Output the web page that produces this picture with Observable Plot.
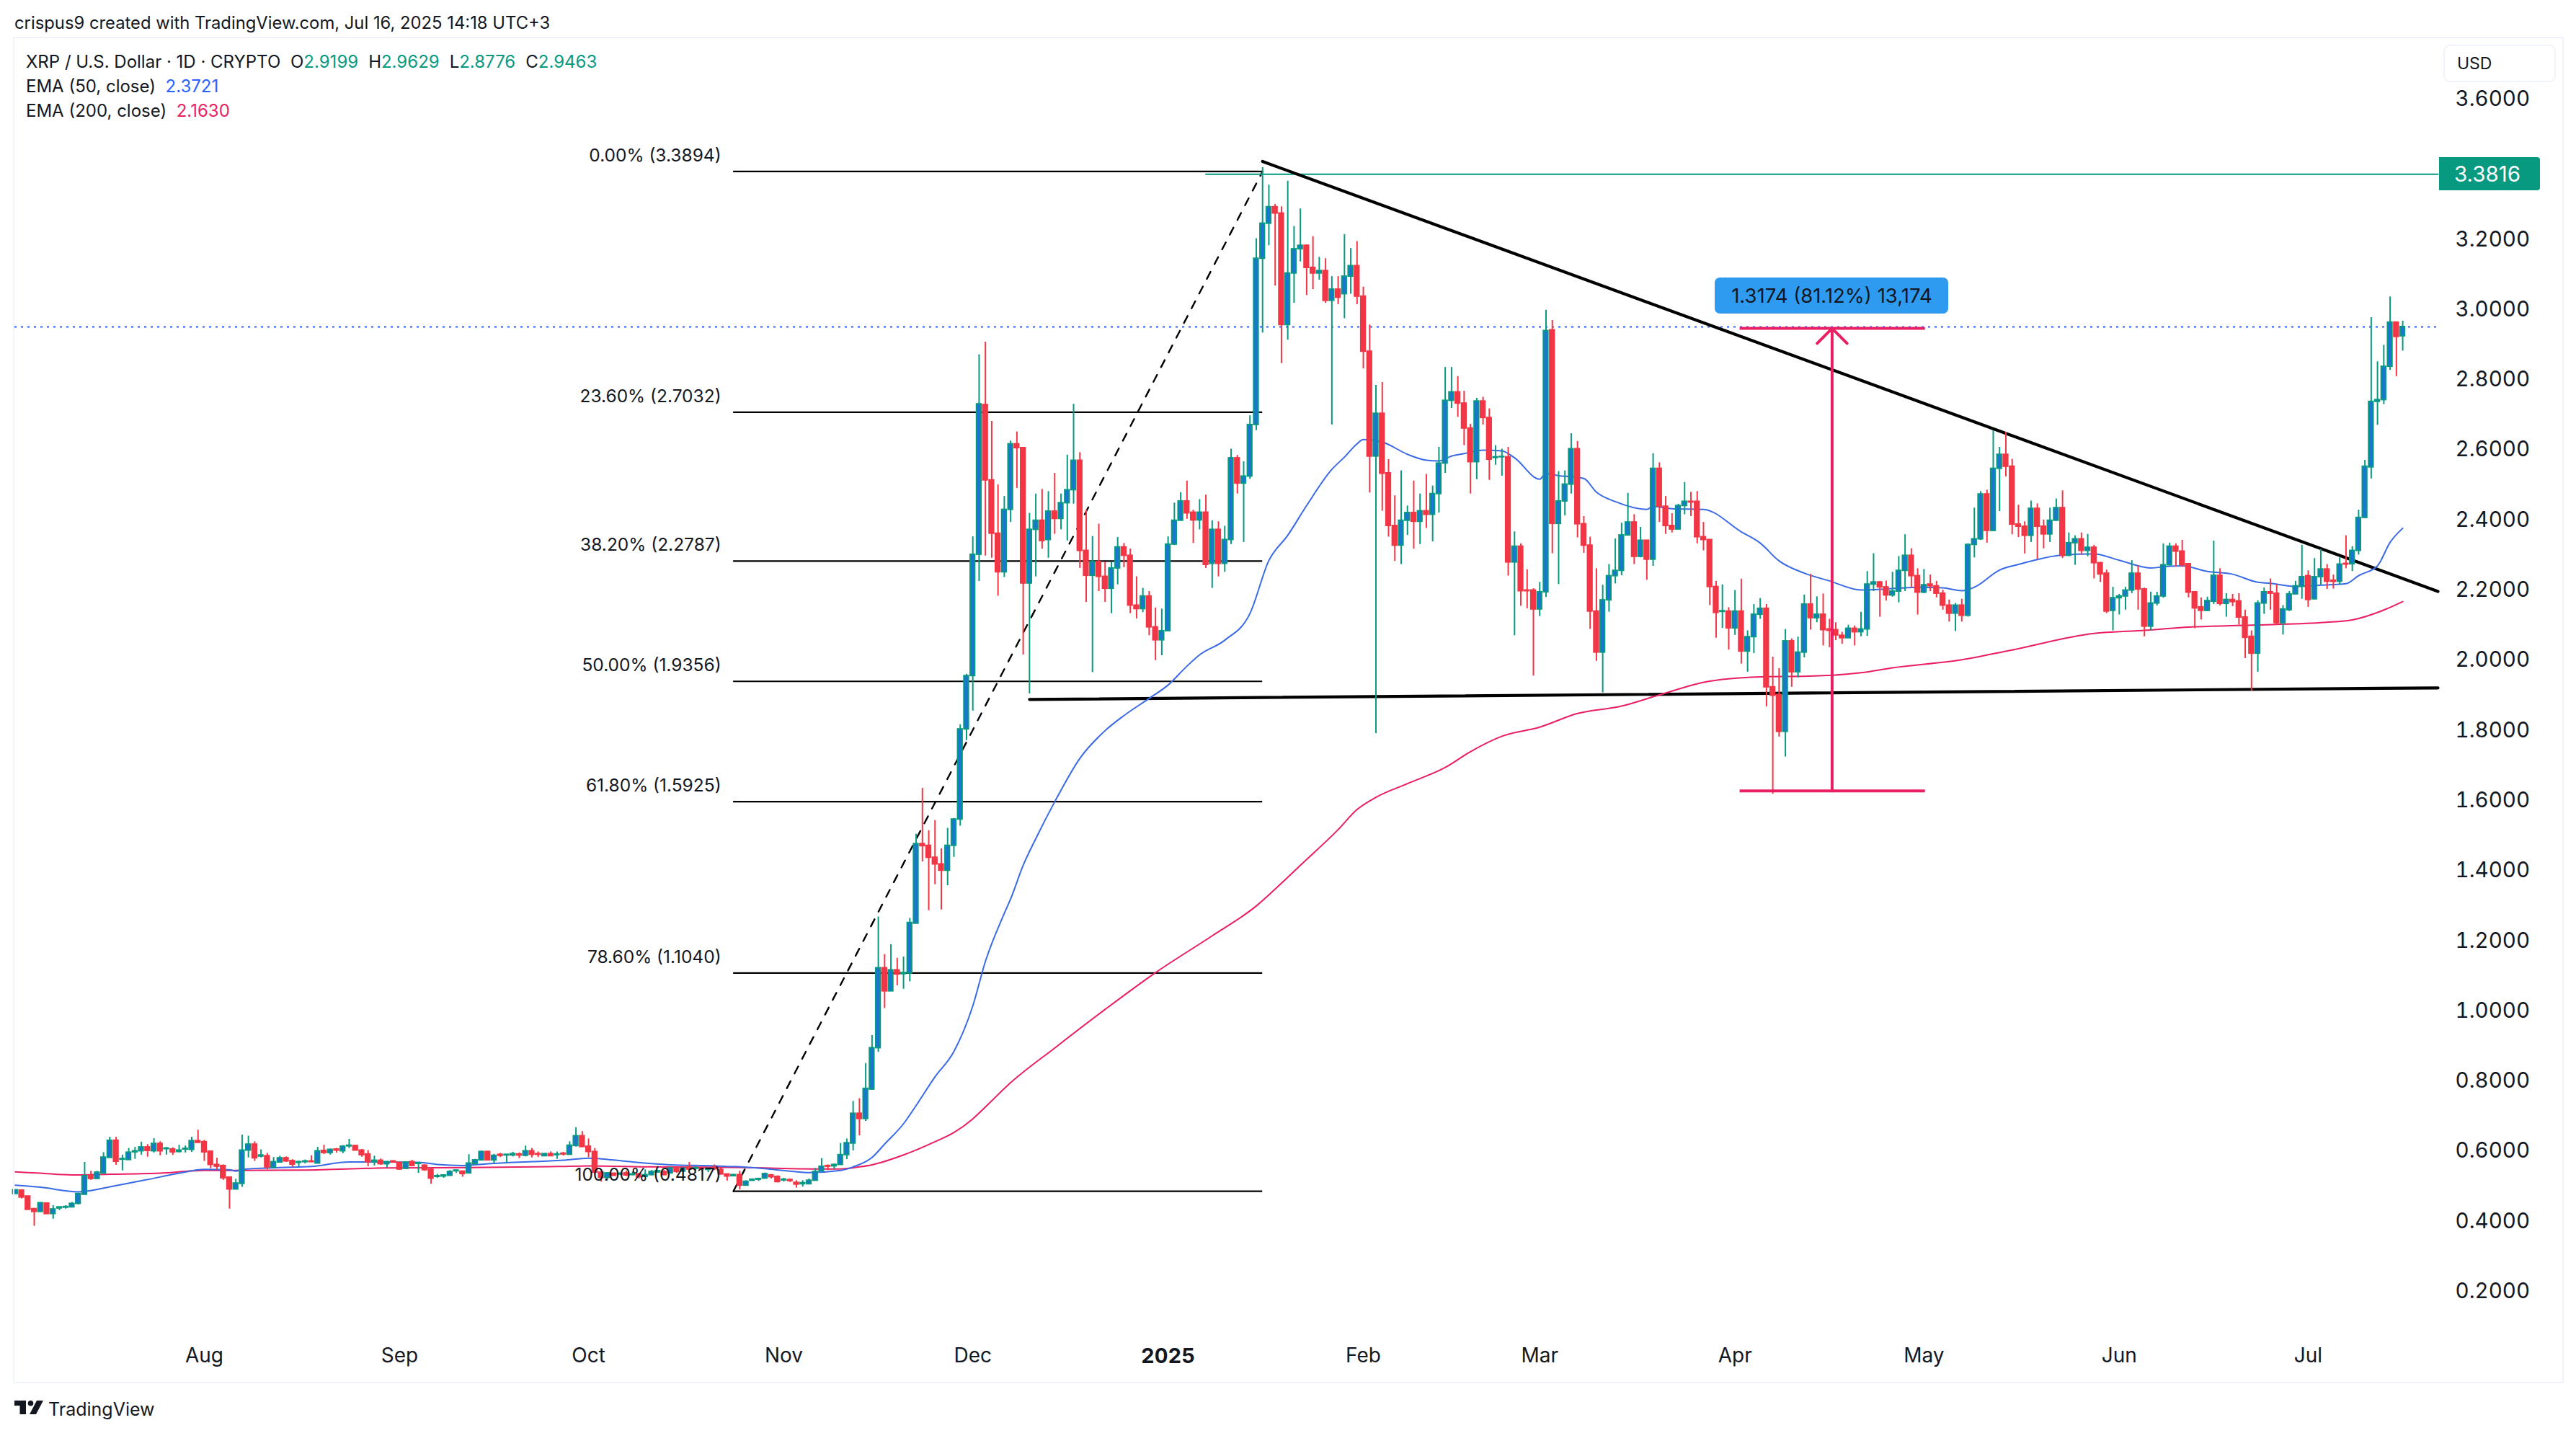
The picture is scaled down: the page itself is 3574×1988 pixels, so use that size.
<!DOCTYPE html>
<html><head><meta charset="utf-8">
<script src="https://cdn.jsdelivr.net/npm/d3@7"></script>
<script src="https://cdn.jsdelivr.net/npm/@observablehq/plot@0.6"></script>
<style>
html,body{margin:0;padding:0;background:#fff;font-family:Inter,"Liberation Sans",sans-serif;color:#131722}
#head{height:53px;position:relative}
#head span{position:absolute;left:20px;top:17px;font-size:23.8px;line-height:30px;white-space:nowrap}
#pane{position:relative;margin-left:20px;width:3535px;height:1864px;outline:2px solid #f0f3fa}
#pane svg{display:block}
#legend{position:absolute;left:16px;top:16px;font-size:24px;line-height:34px;white-space:nowrap}
#legend b{font-weight:400;margin-right:14px}
#legend b.first{margin-right:7px}
.up{color:#089981}.e50{color:#2962ff}.e200{color:#e91e63}
#usd{position:absolute;left:3370px;top:9px;width:156px;height:52px;box-sizing:border-box;border:2px solid #f0f3fa;border-radius:9px;font-size:23px;line-height:48px;padding-left:17px}
#tag{position:absolute;background:#089981;color:#fff;font-size:29.5px;width:140px;height:46px;line-height:46px;text-align:left;padding-left:21px;box-sizing:border-box;border-radius:0 4px 4px 0}
#box{position:absolute;background:#2f9bf0;color:#131722;font-size:27.5px;width:324px;height:50px;line-height:50px;text-align:center;border-radius:7px;white-space:nowrap}
#foot{position:relative;height:71px}
#foot svg{position:absolute;left:20px;top:26px}
#foot span{position:absolute;left:67px;top:20px;font-size:25px;line-height:36px}
</style></head><body>
<div id="head"><span>crispus9 created with TradingView.com, Jul 16, 2025 14:18 UTC+3</span></div>
<div id="pane"></div>
<div id="foot"><svg width="40" height="20" viewBox="0 0 40 20"><path fill="#131722" d="M0 0H16V19H7.5V7H0Z M40 0L30 19H21L31 0Z"/><circle cx="22.5" cy="3.8" r="3.8" fill="#131722"/></svg><span>TradingView</span></div>
<script>
// [open, high, low, close] per day
const jul24=[[.474,.486,.474,.485],[.484,.484,.460,.464],[.467,.467,.429,.429],[.431,.433,.382,.423],[.423,.448,.423,.448],[.447,.447,.417,.417],[.417,.441,.402,.430],[.433,.436,.427,.436],[.435,.441,.431,.437],[.436,.450,.435,.446],[.446,.476,.443,.474],[.472,.564,.472,.525],[.526,.539,.513,.517],[.517,.539,.517,.535],[.533,.592,.530,.578],[.577,.636,.577,.626],[.626,.636,.556,.566],[.572,.585,.540,.574],[.571,.604,.571,.592],[.593,.607,.573,.596],[.596,.622,.585,.607],[.607,.615,.579,.597],[.596,.632,.591,.617],[.617,.623,.583,.596],[.602,.607,.585,.604],[.601,.606,.584,.593],[.594,.613,.591,.598],[.601,.611,.591,.603],[.600,.636,.593,.625],[.625,.656,.620,.620]];
const aug24=[[.622,.627,.567,.593],[.595,.595,.546,.557],[.557,.576,.542,.552],[.554,.557,.513,.519],[.521,.521,.431,.487],[.487,.516,.487,.504],[.503,.642,.493,.598],[.598,.639,.577,.615],[.615,.623,.567,.576],[.581,.600,.577,.584],[.582,.590,.543,.550],[.549,.578,.548,.565],[.564,.582,.563,.576],[.576,.580,.564,.567],[.568,.572,.550,.558],[.563,.568,.552,.565],[.565,.571,.560,.567],[.567,.583,.565,.565],[.561,.607,.561,.596],[.597,.613,.587,.591],[.591,.602,.585,.600],[.601,.604,.591,.598],[.596,.612,.589,.609],[.610,.630,.604,.612],[.611,.613,.597,.598],[.598,.601,.579,.585],[.587,.598,.552,.565],[.565,.582,.554,.569],[.569,.574,.556,.559],[.559,.567,.548,.565],[.567,.569,.564,.564]];
const sep24=[[.563,.564,.542,.544],[.546,.565,.544,.564],[.565,.570,.553,.554],[.560,.564,.533,.562],[.555,.557,.539,.542],[.543,.548,.502,.518],[.523,.530,.519,.525],[.524,.528,.519,.527],[.526,.541,.526,.537],[.539,.542,.533,.541],[.538,.538,.522,.531],[.533,.586,.533,.561],[.560,.573,.556,.570],[.570,.596,.569,.594],[.594,.596,.570,.570],[.570,.587,.560,.583],[.586,.590,.578,.583],[.584,.586,.562,.586],[.584,.593,.580,.588],[.587,.591,.575,.584],[.583,.611,.580,.596],[.596,.604,.577,.586],[.588,.594,.578,.586],[.582,.589,.581,.588],[.588,.594,.581,.582],[.585,.594,.573,.587],[.589,.593,.582,.587],[.586,.623,.586,.612],[.611,.663,.608,.639],[.639,.652,.608,.608]];
const oct24=[[.609,.631,.578,.594],[.594,.604,.530,.535],[.535,.541,.508,.520],[.520,.535,.515,.533],[.532,.534,.526,.526],[.530,.534,.527,.532],[.533,.539,.524,.527],[.528,.537,.526,.530],[.530,.533,.517,.522],[.523,.543,.522,.528],[.528,.541,.526,.537],[.536,.542,.533,.539],[.537,.541,.526,.528],[.533,.550,.531,.547],[.548,.551,.533,.537],[.538,.549,.535,.546],[.550,.564,.542,.544],[.546,.552,.541,.548],[.547,.549,.538,.545],[.543,.546,.535,.546],[.549,.557,.541,.545],[.543,.548,.528,.530],[.530,.530,.511,.524],[.525,.530,.524,.528],[.528,.539,.486,.498],[.498,.512,.497,.509],[.512,.517,.510,.515],[.515,.519,.510,.517],[.518,.534,.518,.531],[.527,.530,.517,.522],[.523,.526,.506,.508]];
const nov24=[[.513,.519,.508,.515],[.514,.517,.507,.511],[.506,.512,.491,.501],[.502,.512,.494,.505],[.502,.517,.501,.512],[.512,.547,.512,.537],[.539,.575,.537,.552],[.554,.557,.541,.552],[.553,.560,.544,.557],[.557,.618,.556,.585],[.585,.631,.572,.619],[.618,.738,.597,.703],[.703,.746,.640,.688],[.688,.846,.681,.774],[.772,.926,.770,.890],[.890,1.264,.878,1.118],[1.118,1.157,1.003,1.052],[1.052,1.185,1.052,1.112],[1.112,1.146,1.068,1.100],[1.101,1.150,1.058,1.104],[1.103,1.260,1.079,1.247],[1.245,1.500,1.245,1.472],[1.472,1.631,1.421,1.466],[1.467,1.510,1.282,1.433],[1.433,1.539,1.356,1.414],[1.414,1.458,1.284,1.396],[1.396,1.517,1.353,1.467],[1.467,1.545,1.434,1.542],[1.542,1.812,1.523,1.799],[1.799,1.956,1.767,1.951]];
const dec24=[[1.951,2.348,1.851,2.297],[2.297,2.867,2.221,2.726],[2.724,2.903,2.293,2.509],[2.509,2.677,2.287,2.357],[2.357,2.496,2.179,2.247],[2.247,2.463,2.232,2.425],[2.425,2.621,2.389,2.612],[2.612,2.647,2.486,2.601],[2.601,2.601,2.011,2.215],[2.215,2.415,1.900,2.368],[2.368,2.470,2.234,2.394],[2.394,2.483,2.313,2.336],[2.339,2.477,2.287,2.420],[2.420,2.529,2.355,2.399],[2.399,2.470,2.368,2.444],[2.444,2.581,2.336,2.481],[2.481,2.726,2.441,2.565],[2.565,2.588,2.258,2.308],[2.308,2.424,2.161,2.237],[2.237,2.349,1.961,2.276],[2.276,2.384,2.192,2.234],[2.234,2.276,2.161,2.200],[2.200,2.276,2.129,2.258],[2.258,2.346,2.211,2.318],[2.318,2.329,2.260,2.294],[2.294,2.313,2.129,2.152],[2.152,2.234,2.114,2.142],[2.142,2.201,2.132,2.178],[2.178,2.192,2.066,2.090],[2.090,2.145,1.995,2.053],[2.053,2.142,2.009,2.079]];
const jan25=[[2.079,2.348,2.079,2.326],[2.326,2.444,2.323,2.394],[2.394,2.474,2.394,2.449],[2.449,2.507,2.398,2.415],[2.417,2.424,2.329,2.395],[2.395,2.454,2.368,2.417],[2.417,2.467,2.258,2.268],[2.271,2.394,2.201,2.368],[2.368,2.391,2.234,2.271],[2.271,2.378,2.247,2.339],[2.339,2.598,2.326,2.572],[2.572,2.580,2.470,2.500],[2.500,2.562,2.332,2.520],[2.520,2.693,2.512,2.667],[2.667,3.198,2.651,3.141],[3.141,3.401,2.929,3.241],[3.241,3.351,3.178,3.288],[3.288,3.296,3.063,3.270],[3.270,3.289,2.842,2.952],[2.952,3.362,2.909,3.099],[3.099,3.233,3.014,3.168],[3.168,3.283,3.132,3.178],[3.178,3.181,3.036,3.115],[3.115,3.204,3.053,3.099],[3.099,3.145,3.080,3.106],[3.106,3.141,3.014,3.021],[3.021,3.090,2.667,3.053],[3.053,3.090,3.010,3.030],[3.040,3.210,2.970,3.090],[3.090,3.170,3.040,3.120],[3.120,3.190,3.010,3.033]];
const feb25=[[3.033,3.060,2.827,2.876],[2.876,2.952,2.473,2.577],[2.577,2.780,1.787,2.699],[2.699,2.788,2.421,2.528],[2.529,2.568,2.347,2.379],[2.379,2.465,2.278,2.323],[2.323,2.536,2.269,2.394],[2.394,2.436,2.352,2.416],[2.416,2.507,2.313,2.391],[2.391,2.470,2.326,2.421],[2.421,2.526,2.372,2.411],[2.411,2.493,2.334,2.470],[2.470,2.603,2.416,2.557],[2.557,2.831,2.529,2.736],[2.736,2.831,2.714,2.760],[2.760,2.805,2.689,2.728],[2.728,2.763,2.608,2.657],[2.657,2.669,2.470,2.561],[2.561,2.743,2.511,2.734],[2.734,2.746,2.667,2.687],[2.687,2.713,2.509,2.568],[2.573,2.608,2.552,2.575],[2.575,2.598,2.521,2.576],[2.575,2.603,2.236,2.275],[2.275,2.362,2.066,2.320],[2.320,2.328,2.150,2.193],[2.195,2.254,2.143,2.193],[2.195,2.200,1.951,2.141]];
const mar25=[[2.141,2.218,2.121,2.190],[2.190,2.994,2.175,2.935],[2.937,2.965,2.300,2.385],[2.385,2.534,2.212,2.449],[2.449,2.536,2.408,2.497],[2.497,2.642,2.470,2.598],[2.598,2.620,2.345,2.384],[2.384,2.406,2.301,2.323],[2.323,2.347,2.084,2.135],[2.135,2.257,1.993,2.018],[2.018,2.210,1.903,2.167],[2.167,2.269,2.133,2.236],[2.236,2.342,2.214,2.251],[2.251,2.387,2.237,2.352],[2.352,2.472,2.352,2.389],[2.389,2.411,2.269,2.291],[2.291,2.375,2.288,2.337],[2.337,2.337,2.224,2.283],[2.283,2.585,2.264,2.542],[2.542,2.559,2.389,2.434],[2.434,2.463,2.355,2.379],[2.379,2.414,2.359,2.369],[2.369,2.441,2.367,2.436],[2.436,2.503,2.411,2.448],[2.448,2.475,2.406,2.446],[2.448,2.477,2.328,2.347],[2.347,2.389,2.308,2.339],[2.339,2.339,2.152,2.205],[2.205,2.221,2.059,2.131],[2.134,2.211,2.087,2.136],[2.135,2.146,2.025,2.087]];
const apr25=[[2.087,2.195,2.067,2.135],[2.135,2.227,1.985,2.021],[2.021,2.080,1.962,2.062],[2.062,2.155,2.015,2.126],[2.126,2.172,2.113,2.143],[2.143,2.155,1.863,1.919],[1.919,2.005,1.614,1.895],[1.897,1.972,1.777,1.792],[1.792,2.084,1.720,2.050],[2.050,2.057,1.919,1.962],[1.962,2.062,1.946,2.018],[2.018,2.182,2.003,2.155],[2.155,2.241,2.082,2.116],[2.116,2.177,2.103,2.126],[2.126,2.185,2.037,2.082],[2.084,2.113,2.032,2.080],[2.082,2.103,2.052,2.067],[2.066,2.076,2.042,2.059],[2.059,2.096,2.058,2.086],[2.086,2.094,2.037,2.076],[2.076,2.133,2.063,2.084],[2.084,2.249,2.064,2.212],[2.212,2.300,2.192,2.218],[2.218,2.221,2.119,2.204],[2.204,2.222,2.165,2.181],[2.181,2.247,2.176,2.192],[2.192,2.292,2.160,2.251],[2.251,2.354,2.192,2.294],[2.294,2.314,2.202,2.236],[2.236,2.257,2.125,2.189]];
const may25=[[2.189,2.255,2.186,2.210],[2.212,2.239,2.192,2.207],[2.207,2.221,2.174,2.186],[2.186,2.196,2.139,2.152],[2.152,2.168,2.105,2.129],[2.129,2.158,2.078,2.152],[2.152,2.170,2.105,2.123],[2.123,2.328,2.119,2.325],[2.325,2.430,2.288,2.341],[2.341,2.477,2.338,2.469],[2.469,2.481,2.330,2.365],[2.365,2.650,2.363,2.542],[2.542,2.603,2.420,2.582],[2.582,2.646,2.519,2.548],[2.548,2.569,2.354,2.383],[2.383,2.438,2.346,2.377],[2.377,2.391,2.299,2.351],[2.351,2.450,2.332,2.428],[2.428,2.442,2.283,2.377],[2.377,2.396,2.314,2.355],[2.355,2.430,2.332,2.394],[2.394,2.456,2.393,2.430],[2.430,2.479,2.286,2.294],[2.294,2.359,2.292,2.330],[2.330,2.351,2.267,2.341],[2.341,2.359,2.296,2.308],[2.308,2.355,2.291,2.317],[2.317,2.324,2.228,2.273],[2.273,2.275,2.218,2.241],[2.243,2.253,2.129,2.135],[2.137,2.204,2.080,2.173]];
const jun25=[[2.173,2.184,2.125,2.178],[2.178,2.204,2.139,2.195],[2.195,2.280,2.186,2.243],[2.243,2.265,2.139,2.198],[2.198,2.202,2.063,2.092],[2.092,2.190,2.080,2.158],[2.158,2.190,2.151,2.178],[2.178,2.328,2.173,2.267],[2.267,2.330,2.265,2.320],[2.320,2.328,2.262,2.306],[2.306,2.338,2.261,2.267],[2.270,2.272,2.174,2.189],[2.190,2.190,2.086,2.144],[2.147,2.174,2.111,2.137],[2.137,2.176,2.135,2.165],[2.163,2.336,2.155,2.237],[2.237,2.257,2.151,2.157],[2.157,2.186,2.119,2.168],[2.168,2.184,2.149,2.162],[2.164,2.186,2.096,2.118],[2.118,2.139,2.001,2.060],[2.063,2.080,1.908,2.015],[2.015,2.166,1.962,2.158],[2.158,2.202,2.127,2.190],[2.190,2.228,2.139,2.186],[2.186,2.212,2.096,2.102],[2.102,2.152,2.068,2.141],[2.139,2.192,2.135,2.184],[2.184,2.221,2.184,2.207],[2.206,2.324,2.170,2.233]];
const jul25=[[2.236,2.251,2.147,2.168],[2.170,2.286,2.168,2.233],[2.233,2.312,2.210,2.255],[2.255,2.269,2.198,2.220],[2.223,2.239,2.199,2.220],[2.220,2.288,2.210,2.269],[2.271,2.351,2.257,2.269],[2.270,2.320,2.249,2.308],[2.308,2.424,2.296,2.402],[2.402,2.566,2.401,2.548],[2.546,2.973,2.513,2.733],[2.733,2.847,2.666,2.738],[2.738,2.894,2.725,2.833],[2.833,3.032,2.823,2.959],[2.959,2.959,2.805,2.918],[2.9199,2.9629,2.8776,2.9463]];
const months=[[2024,6,2,jul24],[2024,7,1,aug24],[2024,8,1,sep24],[2024,9,1,oct24],[2024,10,1,nov24],[2024,11,1,dec24],[2025,0,1,jan25],[2025,1,1,feb25],[2025,2,1,mar25],[2025,3,1,apr25],[2025,4,1,may25],[2025,5,1,jun25],[2025,6,1,jul25]];

const ema50=[["2024-07-02",.499],["2024-07-06",.493],["2024-07-12",.480],["2024-07-13",.481],["2024-07-17",.494],["2024-07-23",.515],["2024-07-28",.533],["2024-08-01",.544],["2024-08-05",.543],["2024-08-06",.539],["2024-08-07",.544],["2024-08-13",.549],["2024-08-18",.552],["2024-08-24",.565],["2024-08-28",.565],["2024-09-04",.564],["2024-09-07",.558],["2024-09-11",.555],["2024-09-15",.560],["2024-09-22",.566],["2024-09-27",.570],["2024-10-01",.576],["2024-10-03",.574],["2024-10-08",.565],["2024-10-14",.557],["2024-10-21",.554],["2024-10-27",.549],["2024-10-29",.546],["2024-11-02",.539],["2024-11-05",.535],["2024-11-10",.541],["2024-11-12",.551],["2024-11-15",.578],["2024-11-17",.616],["2024-11-20",.674],["2024-11-22",.726],["2024-11-25",.808],["2024-11-28",.880],["2024-12-01",1.010],["2024-12-03",1.137],["2024-12-06",1.274],["2024-12-07",1.315],["2024-12-09",1.411],["2024-12-11",1.487],["2024-12-14",1.592],["2024-12-18",1.716],["2024-12-22",1.795],["2024-12-25",1.838],["2024-12-29",1.887],["2025-01-01",1.925],["2025-01-04",1.979],["2025-01-06",2.011],["2025-01-10",2.053],["2025-01-14",2.129],["2025-01-17",2.280],["2025-01-20",2.352],["2025-01-23",2.437],["2025-01-27",2.540],["2025-01-29",2.575],["2025-01-31",2.613],["2025-02-01",2.625],["2025-02-04",2.618],["2025-02-08",2.583],["2025-02-11",2.566],["2025-02-13",2.564],["2025-02-15",2.578],["2025-02-17",2.585],["2025-02-20",2.595],["2025-02-23",2.593],["2025-02-25",2.573],["2025-03-01",2.512],["2025-03-02",2.529],["2025-03-04",2.522],["2025-03-06",2.519],["2025-03-08",2.514],["2025-03-10",2.475],["2025-03-13",2.448],["2025-03-18",2.426],["2025-03-19",2.434],["2025-03-22",2.428],["2025-03-27",2.426],["2025-04-02",2.362],["2025-04-05",2.330],["2025-04-08",2.279],["2025-04-12",2.244],["2025-04-16",2.222],["2025-04-21",2.196],["2025-04-24",2.198],["2025-04-30",2.204],["2025-05-04",2.202],["2025-05-07",2.194],["2025-05-09",2.204],["2025-05-13",2.253],["2025-05-16",2.269],["2025-05-23",2.296],["2025-05-28",2.299],["2025-06-01",2.281],["2025-06-06",2.259],["2025-06-09",2.264],["2025-06-11",2.265],["2025-06-15",2.249],["2025-06-19",2.241],["2025-06-23",2.218],["2025-06-25",2.215],["2025-06-29",2.206],["2025-07-03",2.210],["2025-07-07",2.214],["2025-07-09",2.237],["2025-07-12",2.265],["2025-07-14",2.332],["2025-07-16",2.3721]];
const ema200=[["2024-07-02",.537],["2024-07-06",.533],["2024-07-11",.528],["2024-07-17",.530],["2024-07-25",.533],["2024-08-01",.541],["2024-08-05",.541],["2024-08-17",.542],["2024-08-30",.548],["2024-09-12",.549],["2024-09-26",.552],["2024-10-01",.554],["2024-10-11",.551],["2024-10-21",.550],["2024-10-29",.548],["2024-11-02",.546],["2024-11-07",.545],["2024-11-10",.545],["2024-11-13",.551],["2024-11-15",.557],["2024-11-20",.585],["2024-11-25",.623],["2024-11-28",.649],["2024-12-01",.688],["2024-12-03",.722],["2024-12-07",.791],["2024-12-14",.890],["2024-12-22",1.000],["2024-12-30",1.105],["2025-01-08",1.210],["2025-01-15",1.295],["2025-01-19",1.360],["2025-01-22",1.411],["2025-01-28",1.513],["2025-01-31",1.570],["2025-02-03",1.605],["2025-02-08",1.644],["2025-02-14",1.690],["2025-02-18",1.735],["2025-02-23",1.779],["2025-03-01",1.805],["2025-03-07",1.844],["2025-03-14",1.865],["2025-03-20",1.897],["2025-03-28",1.936],["2025-04-06",1.949],["2025-04-12",1.950],["2025-04-21",1.960],["2025-04-26",1.974],["2025-05-07",1.997],["2025-05-15",2.025],["2025-05-28",2.072],["2025-06-04",2.080],["2025-06-13",2.091],["2025-06-22",2.096],["2025-07-03",2.103],["2025-07-08",2.111],["2025-07-13",2.139],["2025-07-16",2.1630]];

const fibLevels=[["0.00%",3.3894],["23.60%",2.7032],["38.20%",2.2787],["50.00%",1.9356],["61.80%",1.5925],["78.60%",1.1040],["100.00%",0.4817]];
const fibStart="2024-10-24",fibEnd="2025-01-16";
const trendDown=[["2025-01-16",3.418],["2025-07-21T14:24Z",2.192]];
const trendFlat=[["2024-12-10",1.884],["2025-07-21T14:24Z",1.917]];
const peakLine=[["2025-01-07",3.3816],["2025-07-21T14:24Z",3.3816]];
const lastPrice=2.9463;
const measure={low:1.623,high:2.942,x:"2025-04-16T10:00Z",x1:"2025-04-01T19:00Z",x2:"2025-05-01T05:00Z"};
const yTicks=[3.6,3.2,3,2.8,2.6,2.4,2.2,2,1.8,1.6,1.4,1.2,1,.8,.6,.4,.2];
const monthTicks=[["2024-08-01","Aug"],["2024-09-01","Sep"],["2024-10-01","Oct"],["2024-11-01","Nov"],["2024-12-01","Dec"],["2025-02-01","Feb"],["2025-03-01","Mar"],["2025-04-01","Apr"],["2025-05-01","May"],["2025-06-01","Jun"],["2025-07-01","Jul"]];
const yearTick=[["2025-01-01","2025"]];
const xDomain=["2024-07-01T21:50Z","2025-07-21T14:24Z"], yDomain=[0.0543,3.7685];

const D=s=>new Date(s);
const DAY=864e5;
const candles=months.flatMap(([y,m,first,rows])=>rows.map((r,i)=>({date:new Date(Date.UTC(y,m,first+i)),open:r[0],high:r[1],low:r[2],close:r[3]})));
const up=candles.filter(d=>d.close>=d.open), down=candles.filter(d=>d.close<d.open);
const pts=a=>a.map(([d,v])=>({date:D(d),v}));
const TEAL="#089981",RED="#f23645",BLUE="#1976d2",PINK="#e91e63";
const halfW=.36*DAY;
const wick=(data,c)=>Plot.ruleX(data,{x:"date",y1:"low",y2:"high",stroke:c,strokeWidth:2});
const body=(data,fill,stroke)=>Plot.rect(data,{x1:d=>new Date(+d.date-halfW),x2:d=>new Date(+d.date+halfW),y1:"open",y2:"close",fill,stroke,strokeWidth:2});
const seg=(a,opt)=>Plot.line(pts(a),{x:"date",y:"v",...opt});
const labelsFor=a=>{const m=new Map(a.map(([d,l])=>[+D(d),l]));return d=>m.get(+d)};

const plot=Plot.plot({
  width:3535,height:1864,marginLeft:0,marginRight:173,marginTop:0,marginBottom:57,
  style:{fontFamily:"Inter, sans-serif",background:"transparent",overflow:"visible",color:"#131722"},
  x:{type:"utc",domain:xDomain.map(D),axis:null},
  y:{type:"linear",domain:yDomain,axis:null},
  marks:[
    Plot.ruleY(fibLevels,{y:d=>d[1],x1:()=>D(fibStart),x2:()=>D(fibEnd),stroke:"#000",strokeWidth:2.2}),
    seg([[fibStart,.4817],[fibEnd,3.3894]],{stroke:"#000",strokeWidth:2.4,strokeDasharray:"11,12"}),
    seg(peakLine,{stroke:TEAL,strokeWidth:2}),
    Plot.ruleY([lastPrice],{stroke:"#2962ff",strokeWidth:2,strokeDasharray:"3,6"}),
    seg(trendDown,{stroke:"#000",strokeWidth:4.2}),
    seg(trendFlat,{stroke:"#000",strokeWidth:4.2}),
    seg(ema200,{stroke:PINK,strokeWidth:2,curve:"monotone-x"}),
    seg(ema50,{stroke:"#3a6ae6",strokeWidth:2,curve:"monotone-x"}),
    wick(up,TEAL),wick(down,RED),
    body(up,BLUE,TEAL),body(down,RED,RED),
    Plot.ruleY([measure.high,measure.low],{y:d=>d,x1:()=>D(measure.x1),x2:()=>D(measure.x2),stroke:PINK,strokeWidth:4}),
    Plot.arrow([measure],{x1:d=>D(d.x),x2:d=>D(d.x),y1:"low",y2:"high",stroke:PINK,strokeWidth:4,headAngle:90,headLength:11}),
    Plot.text(fibLevels,{x:()=>D(fibStart),y:d=>d[1],text:d=>`${d[0]} (${d[1].toFixed(4)})`,textAnchor:"end",dx:-17,dy:-22,fontSize:24.5,fill:"#131722"}),
    Plot.axisY({anchor:"right",ticks:yTicks,tickSize:0,tickPadding:24,tickFormat:d3.format(".4f"),fontSize:29.5,label:null,fill:"#131722",dy:2}),
    Plot.axisX({anchor:"bottom",ticks:monthTicks.map(d=>D(d[0])),tickFormat:labelsFor(monthTicks),tickSize:0,tickPadding:10,fontSize:28,label:null,fill:"#131722"}),
    Plot.axisX({anchor:"bottom",ticks:yearTick.map(d=>D(d[0])),tickFormat:labelsFor(yearTick),tickSize:0,tickPadding:10,fontSize:29,fontWeight:700,label:null,fill:"#131722"})
  ]
});
const pane=document.getElementById("pane");
pane.appendChild(plot);
const sx=plot.scale("x"),sy=plot.scale("y");
const add=(html,id,css)=>{const e=document.createElement("div");e.id=id;e.innerHTML=html;Object.assign(e.style,css||{});pane.appendChild(e)};
add(`<b class="first">XRP / U.S. Dollar · 1D · CRYPTO</b> <b>O<span class="up">2.9199</span></b><b>H<span class="up">2.9629</span></b><b>L<span class="up">2.8776</span></b><b>C<span class="up">2.9463</span></b><br>EMA (50, close)&nbsp; <span class="e50">2.3721</span><br>EMA (200, close)&nbsp; <span class="e200">2.1630</span>`,"legend");
add("USD","usd");
add("3.3816","tag",{left:(3362+2)+"px",top:(sy.apply(3.3816)-23)+"px"});
add("1.3174 (81.12%) 13,174","box",{left:(sx.apply(D(measure.x))-162)+"px",top:(sy.apply(measure.high)-70)+"px"});
</script>
</body></html>
